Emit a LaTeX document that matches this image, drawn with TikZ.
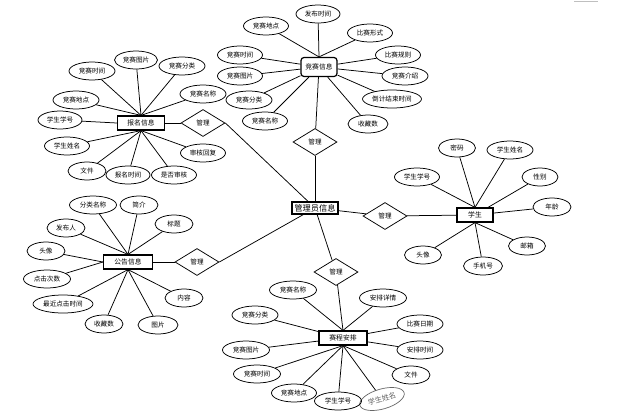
\documentclass[tikz,border=0pt]{standalone}
\usepackage{fontspec}
\newfontfamily\cjk{Noto Sans CJK SC}
\usetikzlibrary{shapes.geometric}
\begin{document}
\begin{tikzpicture}[x=1pt,y=-1pt,
  attr/.style={ellipse,draw,line width=0.75pt,minimum width=#1,minimum height=18pt,inner sep=0pt,font=\cjk\fontsize{6.6}{6.6}\selectfont},
  attr/.default=46pt,
  ent/.style={rectangle,draw,line width=1.2pt,minimum width=#1,minimum height=14pt,inner sep=0pt,font=\cjk\fontsize{6.8}{6.8}\selectfont},
  ent/.default=47pt,
  rel/.style={diamond,draw,line width=0.75pt,minimum width=44pt,minimum height=27pt,inner sep=0pt,font=\cjk\fontsize{6.6}{6.6}\selectfont},
  link/.style={line width=0.75pt}]
\useasboundingbox (0,0) rectangle (641,418);
\draw[gray!50,line width=0.6pt] (574,1) -- (598,1);

% central admin
\node[rectangle,draw,line width=1.1pt,minimum width=46pt,minimum height=12pt,inner sep=0pt,font=\cjk\fontsize{8.2}{8.2}\selectfont] (gl) at (315,208) {管理员信息};

% ---------- 报名信息 ----------
\node[ent] (bm) at (141,123) {报名信息};
\node[attr] (bm1) at (92,71) {竞赛时间};
\node[attr=43pt] (bm2) at (136,60) {竞赛图片};
\node[attr] (bm3) at (182,66) {竞赛分类};
\node[attr] (bm4) at (203,94) {竞赛名称};
\node[attr] (bm5) at (76,100) {竞赛地点};
\node[attr=44pt] (bm6) at (60,120) {学生学号};
\node[attr=45pt] (bm7) at (67,146) {学生姓名};
\node[attr=38pt] (bm8) at (87,171) {文件};
\node[attr=44pt] (bm9) at (128,175) {报名时间};
\node[attr=45pt] (bm10) at (174,175) {是否审核};
\node[attr=45pt] (bm11) at (203,153) {审核回复};
\node[rel] (dm1) at (203,123) {管理};
\foreach \i in {1,2,3,4,5} \draw[link] (bm.north) -- (bm\i);
\draw[link] (bm.west) -- (bm6);
\foreach \i in {7,8,9,10,11} \draw[link] (bm.south) -- (bm\i);
\draw[link] (bm) -- (dm1);
\draw[link] (dm1.east) -- (gl);

% ---------- 竞赛信息 ----------
\node[ent=36pt,rounded corners=3pt,minimum height=19pt] (js) at (319,67) {竞赛信息};
\node[attr=45pt] (js1) at (266,26) {竞赛地点};
\node[attr=44pt] (js2) at (318,14) {发布时间};
\node[attr=45pt] (js3) at (370,33) {比赛形式};
\node[attr=45pt] (js4) at (398,55) {比赛规则};
\node[attr] (js5) at (405,76) {竞赛介绍};
\node[attr=59pt] (js6) at (392,99) {倒计结束时间};
\node[attr=40pt] (js7) at (368,124) {收藏数};
\node[attr=45pt] (js8) at (265,121) {竞赛名称};
\node[attr] (js9) at (249,100) {竞赛分类};
\node[attr=45pt] (js10) at (240,76) {竞赛图片};
\node[attr=45pt] (js11) at (240,55) {竞赛时间};
\node[rel] (dm2) at (315,142) {管理};
\foreach \i in {1,2,3} \draw[link] (js.north) -- (js\i);
\foreach \i in {4,5,6,7,8,9,10,11} \draw[link] (js) -- (js\i);
\draw[link] (js) -- (dm2);
\draw[link] (dm2) -- (gl);

% ---------- 学生 ----------
\node[ent=36pt] (xs) at (475,215) {学生};
\node[attr=37pt] (xs1) at (457,148) {密码};
\node[attr] (xs2) at (510,150) {学生姓名};
\node[attr=36pt] (xs3) at (540,177) {性别};
\node[attr=38pt] (xs4) at (552,207) {年龄};
\node[attr=37pt] (xs5) at (527,246) {邮箱};
\node[attr=39pt] (xs6) at (483,266) {手机号};
\node[attr=37pt] (xs7) at (423,255) {头像};
\node[attr=45pt] (xs8) at (417,177) {学生学号};
\node[rel] (dm3) at (385,216) {管理};
\foreach \i in {1,2,8} \draw[link] (xs.north) -- (xs\i);
\foreach \i in {3,4} \draw[link] (xs) -- (xs\i);
\foreach \i in {5,6,7} \draw[link] (xs.south) -- (xs\i);
\draw[link] (xs) -- (dm3);
\draw[link] (dm3) -- (gl);

% ---------- 公告信息 ----------
\node[ent=49pt] (gg) at (128,262) {公告信息};
\node[attr=47pt] (gg1) at (93,205) {分类名称};
\node[attr=38pt] (gg2) at (139,205) {简介};
\node[attr=38pt] (gg3) at (174,224) {标题};
\node[attr=38pt] (gg4) at (66,228) {发布人};
\node[attr=38pt] (gg5) at (46,251) {头像};
\node[attr=47pt] (gg6) at (47,279) {点击次数};
\node[attr=60pt] (gg7) at (63,304) {最近点击时间};
\node[attr=38pt] (gg8) at (104,324) {收藏数};
\node[attr=40pt] (gg9) at (158,325) {图片};
\node[attr=38pt] (gg10) at (184,298) {内容};
\node[rel] (dm4) at (197,262) {管理};
\foreach \i in {1,2,3,4} \draw[link] (gg.north) -- (gg\i);
\foreach \i in {5,6} \draw[link] (gg.west) -- (gg\i);
\foreach \i in {7,8,9,10} \draw[link] (gg.south) -- (gg\i);
\draw[link] (gg) -- (dm4);
\draw[link] (dm4.east) -- (gl);

% ---------- 赛程安排 ----------
\node[ent=48pt] (sc) at (343,338) {赛程安排};
\node[attr=47pt] (sc1) at (293,290) {竞赛名称};
\node[attr=47pt] (sc2) at (383,298) {安排详情};
\node[attr] (sc3) at (420,324) {比赛日期};
\node[attr] (sc4) at (420,350) {安排时间};
\node[attr=38pt] (sc5) at (411,375) {文件};
\node[ellipse,draw=gray!80!black,line width=0.7pt,minimum width=46pt,minimum height=20pt,inner sep=0pt,rotate=16,text=gray!75!black,font=\cjk\fontsize{7.2}{7.2}\selectfont] (sc6) at (382,399) {学生姓名};
\node[attr=47pt] (sc7) at (338,401) {学生学号};
\node[attr=45pt] (sc8) at (294,393) {竞赛地点};
\node[attr=47pt] (sc9) at (257,374) {竞赛时间};
\node[attr=47pt] (sc10) at (246,350) {竞赛图片};
\node[attr] (sc11) at (255,315) {竞赛分类};
\node[rel] (dm5) at (336,272) {管理};
\foreach \i in {1,2} \draw[link] (sc.north) -- (sc\i);
\foreach \i in {3,4,10,11} \draw[link] (sc) -- (sc\i);
\foreach \i in {5,6,7,8,9} \draw[link] (sc.south) -- (sc\i);
\draw[link] (sc.north) -- (dm5);
\draw[link] (dm5) -- (gl);
\end{tikzpicture}
\end{document}
